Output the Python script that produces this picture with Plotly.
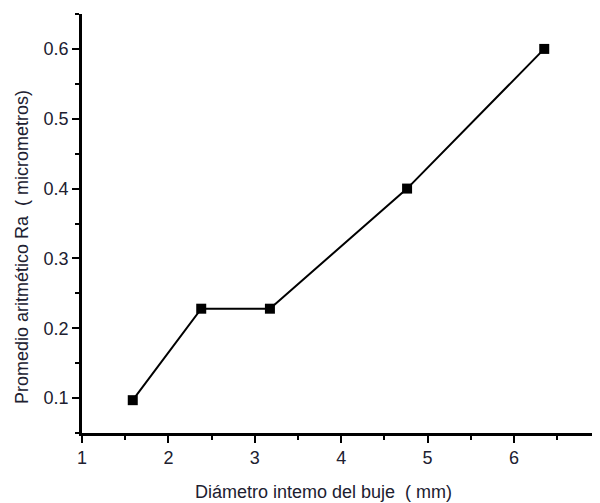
import plotly.graph_objects as go

diametro_mm = [1.5875, 2.38, 3.175, 4.7625, 6.35]
ra_um = [0.097, 0.228, 0.228, 0.400, 0.600]

x_ticks = [1, 2, 3, 4, 5, 6]
y_ticks = [0.1, 0.2, 0.3, 0.4, 0.5, 0.6]

font_family = "Liberation Sans, Arial, sans-serif"
txt_color = "#202030"
FS = 18

# page offset (body margin of the html page)
OFF = 8
PL, PT, PB = 82, 14, 433  # plot area in page pixels
PR = 600
W, H = 600 - OFF, 503 - OFF
plot_w = PR - PL
plot_h = PB - PT


def px_to_paper(px, py):
    return (px - PL) / plot_w, (PB - py) / plot_h


fig = go.Figure()
fig.add_trace(go.Scatter(
    x=diametro_mm, y=ra_um, mode="lines+markers",
    line=dict(color="black", width=2),
    marker=dict(symbol="square", size=10, color="black"),
    showlegend=False, cliponaxis=False,
))

axis_common = dict(
    showline=True, linecolor="black", linewidth=2.5,
    showgrid=False, zeroline=False,
    ticks="outside", ticklen=7, tickwidth=2, tickcolor="black",
    tickfont=dict(family=font_family, size=FS, color=txt_color),
)

fig.update_layout(
    width=W, height=H,
    margin=dict(l=PL - OFF, r=0, t=PT - OFF, b=H - (PB - OFF)),
    paper_bgcolor="white", plot_bgcolor="white",
    xaxis=dict(range=[1, 1 + plot_w / 86.4], tickvals=x_ticks,
               minor=dict(dtick=0.5, ticks="outside", ticklen=4, tickwidth=2, tickcolor="black"),
               **axis_common),
    yaxis=dict(range=[0.05, 0.65], tickvals=y_ticks, tickformat=".1f",
               minor=dict(dtick=0.05, ticks="outside", ticklen=4, tickwidth=2, tickcolor="black"),
               **axis_common),
)

x7, y7 = px_to_paper(601, 444)
fig.add_annotation(x=x7, y=y7, xref="paper", yref="paper", text="7", showarrow=False,
                   xanchor="center", yanchor="top",
                   font=dict(family=font_family, size=FS, color=txt_color))
xt, yt = px_to_paper(323, 492)
fig.add_annotation(x=xt, y=yt, xref="paper", yref="paper", text="Diámetro intemo del buje  ( mm)",
                   showarrow=False, xanchor="center", yanchor="middle",
                   font=dict(family=font_family, size=FS, color=txt_color))
xy, yy = px_to_paper(22, 247)
fig.add_annotation(x=xy, y=yy, xref="paper", yref="paper", text="Promedio aritmético Ra  ( micrometros)",
                   showarrow=False, textangle=-90, xanchor="center", yanchor="middle",
                   font=dict(family=font_family, size=FS, color=txt_color))

fig.write_html("out.html")
